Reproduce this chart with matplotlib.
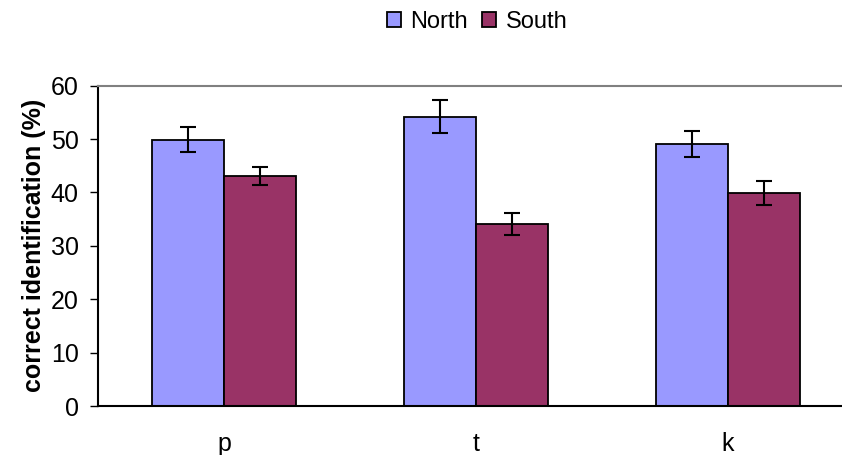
import matplotlib
matplotlib.use("Agg")
import matplotlib.pyplot as plt
import numpy as np
from matplotlib.patches import Patch

plt.rcParams["font.family"] = ["Liberation Sans", "DejaVu Sans"]

# Dane
categories = ["p", "t", "k"]
north = [49.9, 54.2, 49.1]
south = [43.1, 34.1, 39.9]
north_err = [2.4, 3.1, 2.5]
south_err = [1.65, 2.0, 2.2]

NORTH_COLOR = "#9999FF"
SOUTH_COLOR = "#993366"
FS = 18

fig = plt.figure(figsize=(8.42, 4.55), dpi=100)
ax = fig.add_axes([98 / 842, 1 - 406 / 455, 756 / 842, (406 - 85.7) / 455])

x = np.arange(len(categories))
w = 0.286
err_kw = dict(elinewidth=1.5, capthick=1.5, ecolor="black")

ax.bar(x - w / 2, north, w, color=NORTH_COLOR, edgecolor="black", linewidth=1.3,
       yerr=north_err, capsize=5.5, error_kw=err_kw, label="North")
ax.bar(x + w / 2, south, w, color=SOUTH_COLOR, edgecolor="black", linewidth=1.3,
       yerr=south_err, capsize=5.5, error_kw=err_kw, label="South")

ax.set_xlim(-0.5, len(categories) - 0.5)
ax.set_ylim(0, 60)
ax.set_yticks(range(0, 61, 10))
ax.set_xticks(x)
ax.set_xticklabels(categories)

ax.tick_params(axis="y", direction="out", length=6, width=1, pad=8, labelsize=FS)
ax.tick_params(axis="x", length=0, pad=19, labelsize=FS)

ax.spines["right"].set_visible(False)
ax.spines["top"].set_color("#808080")
ax.spines["top"].set_linewidth(1.5)
ax.spines["left"].set_linewidth(1.5)
ax.spines["bottom"].set_linewidth(1.5)

ax.set_ylabel("correct identification (%)", fontsize=FS, fontweight="bold", labelpad=3)

handles = [Patch(facecolor=NORTH_COLOR, edgecolor="black", linewidth=1.3),
           Patch(facecolor=SOUTH_COLOR, edgecolor="black", linewidth=1.3)]
fig.legend(handles, ["North", "South"], loc="center", bbox_to_anchor=(477 / 842, 1 - 22 / 455),
           ncol=2, frameon=False, fontsize=17, handlelength=0.6, handleheight=0.6,
           handletextpad=0.4, columnspacing=0.6)

fig.savefig("out.png", dpi=100)
